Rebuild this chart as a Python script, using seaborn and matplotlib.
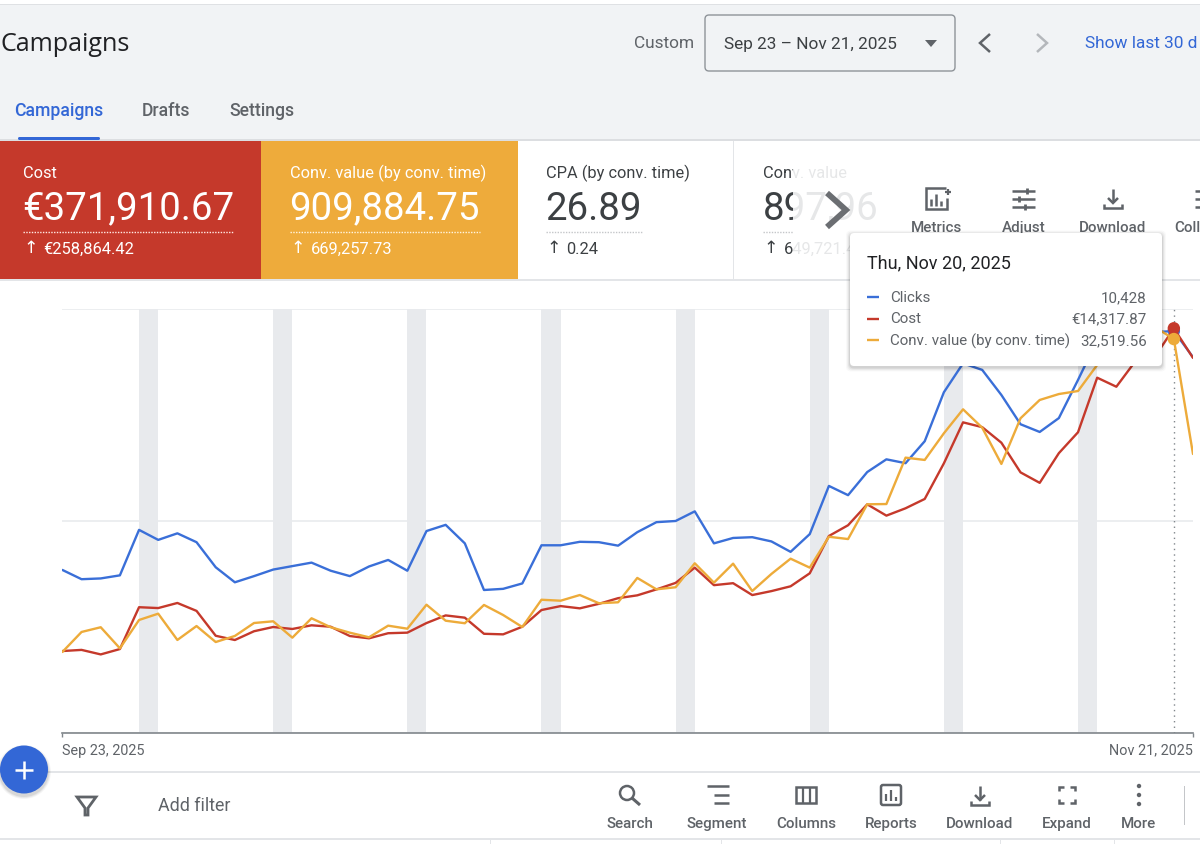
# Google Ads campaigns overview screenshot, rebuilt with seaborn
import matplotlib
matplotlib.use('Agg')
import matplotlib.pyplot as plt
import numpy as np
import pandas as pd
import seaborn as sns
from matplotlib.patches import Circle, FancyBboxPatch, Polygon, Rectangle
from matplotlib.transforms import Bbox, TransformedBbox

# Daily values (tooltip values used for Nov 20)
clicks = [4230, 3990, 4010, 4090, 5270, 5010, 5180, 4950, 4300, 3910,
          4070, 4240, 4330, 4420, 4210, 4070, 4320, 4490, 4210, 5240,
          5400, 4920, 3710, 3740, 3880, 4870, 4870, 4960, 4950, 4860,
          5210, 5470, 5500, 5750, 4920, 5060, 5080, 4970, 4700, 5160,
          6410, 6170, 6770, 7100, 7000, 7570, 8840, 9590, 9420, 8770,
          8010, 7810, 8170, 9160, 10190, 10660, 10770, 10400, 10428, 9750]
cost = [2900, 2940, 2780, 2970, 4450, 4420, 4600, 4320, 3440, 3290,
        3600, 3750, 3680, 3810, 3760, 3430, 3350, 3530, 3550, 3890,
        4160, 4080, 3510, 3490, 3760, 4350, 4490, 4410, 4570, 4770,
        4870, 5080, 5310, 5850, 5230, 5300, 4880, 5020, 5190, 5650,
        6970, 7350, 8090, 7690, 7950, 8280, 9540, 10990, 10820, 10270,
        9220, 8850, 9900, 10640, 12570, 12250, 13160, 13300, 14317.87, 13270]
conv_value = [6690, 8340, 8730, 6990, 9330, 9850, 7680, 8830, 7510, 8010,
              9080, 9220, 7870, 9470, 8730, 8280, 7900, 8860, 8610, 10590,
              9270, 9060, 10570, 9740, 8750, 11000, 10920, 11390, 10710, 10790,
              12800, 11860, 12030, 14010, 12410, 13980, 11720, 13130, 14390, 13650,
              16200, 16010, 18880, 18900, 22730, 22540, 24740, 26720, 25200, 22210,
              25980, 27490, 27980, 28230, 30380, 31620, 32850, 33520, 32519.56, 23030]
dates = pd.date_range('2025-09-23', '2025-11-21', freq='D')
hover_date = pd.Timestamp('2025-11-20')

# Hidden axis ranges of the three series
clicks_max = 11000
cost_max = 15000
conv_max = 35000

tab_labels = ['Campaigns', 'Drafts', 'Settings']
toolbar_labels = ['Search', 'Segment', 'Columns', 'Reports', 'Download', 'Expand', 'More']
top_tool_labels = ['Metrics', 'Adjust', 'Download', 'Coll']

BLUE = '#3a6fd8'
RED = '#c5392b'
AMBER = '#edab3a'
DARK = '#3c4043'
GRAY = '#5f6368'
LINE = '#e3e5e8'

sns.set_theme(style='white')
plt.rcParams['font.family'] = ['Roboto', 'DejaVu Sans']

fig = plt.figure(figsize=(12, 8.45), dpi=100, facecolor='white')

# Page furniture, in pixel coordinates
bg = fig.add_axes([0, 0, 1, 1], zorder=0)
bg.set_xlim(0, 1200)
bg.set_ylim(844, -1)
bg.axis('off')


def rect(ax, x0, y0, x1, y1, color, z=1):
    ax.add_patch(Rectangle((x0, y0), x1 - x0, y1 - y0, facecolor=color, edgecolor='none', zorder=z))


def seg(ax, xs, ys, color=GRAY, lw=1.5, z=3, **kw):
    ax.plot(xs, ys, color=color, lw=lw, zorder=z, solid_capstyle=kw.pop('cap', 'butt'),
            solid_joinstyle='miter', **kw)


def clip_x(ax, artist, x0, x1):
    # keeps only the part of a text between x0 and x1
    box = Bbox.from_extents(x0, 0, x1, 845)
    artist.set_clip_box(TransformedBbox(box, ax.transData))
    artist.set_clip_on(True)


# header
rect(bg, 0, 5, 1200, 140, '#f1f3f5')
rect(bg, 0, 4, 1200, 5, '#dfe1e4')
rect(bg, 0, 139, 1200, 140.5, '#dcdee1')
bg.text(0, 43.5, 'Campaigns', fontsize=18.1, color='#202124', family=['Open Sans', 'DejaVu Sans'], va='center', ha='left')

for label, x, col in zip(tab_labels, [14.5, 142, 229], ['#3367d6', GRAY, GRAY]):
    bg.text(x, 110, label, fontsize=12.7, color=col, va='center', fontweight='medium')
bg.add_patch(FancyBboxPatch((18, 137), 82, 3, boxstyle='round,pad=0,rounding_size=1.5', fc='#3367d6', ec='none', zorder=3))

bg.text(694, 43, 'Custom', fontsize=12.4, color=GRAY, va='center', ha='right')
bg.add_patch(FancyBboxPatch((705, 15), 250, 56, boxstyle='round,pad=0,rounding_size=4', fc='#f1f3f5', ec='#8f9499', lw=1, zorder=2))
bg.text(724, 43, 'Sep 23 – Nov 21, 2025', fontsize=12.4, color=DARK, va='center')
bg.add_patch(Polygon([[925, 40], [937, 40], [931, 47]], fc=GRAY, ec='none', zorder=3))
seg(bg, [990, 980, 990], [34, 43, 52], color=GRAY, lw=1.8)
seg(bg, [1037, 1047, 1037], [34, 43, 52], color='#b4b7bb', lw=1.8)
bg.text(1085, 43, 'Show last 30 d', fontsize=12.4, color='#3367d6', va='center')

# metric cards
rect(bg, 0, 141, 261, 279, RED)
rect(bg, 261, 141, 518, 279, '#eeab3b')
rect(bg, 0, 279, 1200, 280.5, LINE)
rect(bg, 732.5, 141, 733.5, 279, LINE)

cards = [(23, 'Cost', '€371,910.67', '€258,864.42', 211, 'white', '#ffe9e4'),
         (290, 'Conv. value (by conv. time)', '909,884.75', '669,257.73', 190, 'white', '#fff5e0'),
         (546, 'CPA (by conv. time)', '26.89', '0.24', 97, DARK, '#c4c6c9')]
for x, name, value, delta, ul, col, dotcol in cards:
    bg.text(x - 0.5, 172, name, fontsize=11.8, color=col, va='center', zorder=4)
    bg.text(x - 0.5, 208, value, fontsize=27.6, color=col, va='center', zorder=4)
    seg(bg, [x, x + ul], [232, 232], color=dotcol, lw=1, ls=(0, (1, 1)))
    bg.text(x, 247.5, '↑', fontsize=12.5, color=col, va='center', zorder=4)
    bg.text(x + 20.5, 248, delta, fontsize=11.9, color=col, va='center', zorder=4)

# card that fades out under the scroll arrow
for col, x0, x1 in [('#e6e7e8', 793, 878), (DARK, 763, 793)]:
    t = bg.text(763, 172, 'Conv. value', fontsize=11.8, color=col, va='center', zorder=4)
    clip_x(bg, t, x0, x1)
    t = bg.text(763, 208, '897,967', fontsize=27.6, color=col, va='center', zorder=4)
    clip_x(bg, t, x0, x1)
    t = bg.text(783.5, 248, '649,721.4', fontsize=11.9, color=col, va='center', zorder=4)
    clip_x(bg, t, x0, x1)
seg(bg, [763, 793], [232, 232], color='#c4c6c9', lw=1, ls=(0, (1, 1)))
bg.text(763, 247.5, '↑', fontsize=12.5, color=DARK, va='center', zorder=4)
seg(bg, [827, 846, 827], [193, 210, 227], color='#6b6e72', lw=4.2, z=5)

# tools above the tooltip line
for label, x in zip(top_tool_labels, [937, 1024, 1113, 1174]):
    bg.text(x, 227, label, fontsize=10.9, color=GRAY, va='center', ha='center' if label != 'Coll' else 'left', fontweight='medium')
# metrics icon
seg(bg, [946, 926, 926, 947, 947], [188, 188, 209, 209, 198], lw=1.8)
seg(bg, [931, 931], [199, 206], lw=1.8)
seg(bg, [936, 936], [194, 206], lw=1.8)
seg(bg, [941, 941], [201, 206], lw=1.8)
seg(bg, [945, 951], [192, 192], lw=1.6)
seg(bg, [948, 948], [189, 195], lw=1.6)
# adjust icon
for y, a, b in [(191, 1012, 1035), (199, 1012, 1035), (207, 1012, 1035)]:
    seg(bg, [a, b], [y, y], lw=1.8)
seg(bg, [1027, 1027], [188, 194], lw=2)
seg(bg, [1019, 1019], [196, 202], lw=2)
seg(bg, [1025, 1025], [204, 210], lw=2)
# download icon
seg(bg, [1113, 1113], [189, 202], lw=1.8)
seg(bg, [1108, 1113, 1118], [198, 203, 198], lw=1.8)
seg(bg, [1104, 1104, 1122, 1122], [204, 208, 208, 204], lw=1.8)
# collapse icon, cut by the screen edge
seg(bg, [1195, 1200], [191, 191], lw=1.8)
seg(bg, [1195, 1200], [199, 199], lw=1.8)
seg(bg, [1195, 1200], [207, 207], lw=1.8)

# bottom toolbar
rect(bg, 0, 771, 1200, 772.5, LINE)
rect(bg, 0, 838, 1200, 840, LINE)
for x in [490, 721, 1000, 1114]:
    rect(bg, x, 840, x + 1, 845, LINE)
bg.add_patch(Polygon([[77, 797], [96, 797], [88, 808], [88, 815], [85, 815], [85, 808]], fc='white', ec=GRAY, lw=2, zorder=3))
bg.text(158, 805, 'Add filter', fontsize=12.9, color=GRAY, va='center')

for label, x in zip(toolbar_labels, [630, 717, 806, 891, 980, 1067, 1139]):
    bg.text(x, 823, label, fontsize=10.9, color=GRAY, va='center', ha='center', fontweight='medium')
# search
bg.add_patch(Circle((627, 793), 7, fc='none', ec=GRAY, lw=1.8, zorder=3))
seg(bg, [632, 640], [798, 805], lw=2.2)
# segment
seg(bg, [707, 729], [786, 786], lw=1.8)
seg(bg, [714, 729], [795, 795], lw=1.8)
seg(bg, [714, 729], [803, 803], lw=1.8)
# columns
bg.add_patch(Rectangle((796, 787), 20, 16, fc='none', ec=GRAY, lw=1.8, zorder=3))
seg(bg, [802.5, 802.5], [787, 803], lw=1.6)
seg(bg, [809.5, 809.5], [787, 803], lw=1.6)
# reports
bg.add_patch(FancyBboxPatch((881, 785), 20, 20, boxstyle='round,pad=0,rounding_size=2', fc='none', ec=GRAY, lw=1.8, zorder=3))
seg(bg, [886, 886], [794, 801], lw=1.6)
seg(bg, [891, 891], [790, 801], lw=1.6)
seg(bg, [896, 896], [797, 801], lw=1.6)
# download
seg(bg, [980, 980], [786, 800], lw=1.8)
seg(bg, [975, 980, 985], [795, 800, 795], lw=1.8)
seg(bg, [971, 971, 989, 989], [801, 805, 805, 801], lw=1.8)
# expand
for sx, sy in [(-1, -1), (1, -1), (-1, 1), (1, 1)]:
    seg(bg, [1067 + sx * 8, 1067 + sx * 8, 1067 + sx * 3], [795 + sy * 4, 795 + sy * 8, 795 + sy * 8], lw=1.8)
# more
for y in [786, 795, 804]:
    bg.add_patch(Circle((1139, y), 2.2, fc=GRAY, ec='none', zorder=3))
rect(bg, 1183.5, 786, 1184.5, 825, '#c4c6c9')

# The chart itself: one axes per series because each has its own hidden scale
chart_box = [62.4 / 1200, (845 - 734) / 845, (1193 - 62.4) / 1200, (733 - 309) / 845]
ax = fig.add_axes(chart_box, zorder=1, facecolor='none')
df = pd.DataFrame({'date': dates, 'clicks': clicks, 'cost': cost, 'conv_value': conv_value})
hover = df[df['date'] == hover_date]

for sat in dates[dates.dayofweek == 5]:
    ax.axvspan(sat, sat + pd.Timedelta(days=1), color='#e8eaed', lw=0, zorder=0)
ax.axvline(hover_date, color='#80868b', lw=1, ls=(0, (1, 3)), zorder=1)

sns.lineplot(data=df, x='date', y='clicks', ax=ax, color=BLUE, lw=1.7, zorder=3)
sns.scatterplot(data=hover, x='date', y='clicks', ax=ax, color=BLUE, s=80, edgecolor='none', zorder=4, clip_on=False)
ax.set_ylim(0, clicks_max)
ax.set_xlim(dates[0], dates[-1])
ax.set_yticks([0, clicks_max / 2, clicks_max])
ax.set_yticklabels([])
ax.tick_params(axis='y', length=0)
ax.grid(axis='y', color='#e9ebed', lw=1.2)
ax.set_axisbelow(True)
ax.set_xticks([dates[0], dates[-1]])
ax.set_xticklabels(['Sep 23, 2025', 'Nov 21, 2025'], fontsize=10.4, color=GRAY)
ax.get_xticklabels()[0].set_ha('left')
ax.get_xticklabels()[1].set_ha('right')
ax.tick_params(axis='x', length=3, width=1, color='#80868b', pad=4, bottom=True)
ax.set_xlabel('')
ax.set_ylabel('')
sns.despine(ax=ax, left=True, right=True, top=True)
ax.spines['bottom'].set_color('#80868b')
ax.spines['bottom'].set_linewidth(1.2)

for col, vmax, color in [('cost', cost_max, RED), ('conv_value', conv_max, AMBER)]:
    twin = ax.twinx()
    twin.set_facecolor('none')
    sns.lineplot(data=df, x='date', y=col, ax=twin, color=color, lw=1.7, zorder=3)
    sns.scatterplot(data=hover, x='date', y=col, ax=twin, color=color, s=80, edgecolor='none', zorder=4, clip_on=False)
    twin.set_ylim(0, vmax)
    twin.set_ylabel('')
    twin.set_yticks([])
    twin.set_xlim(dates[0], dates[-1])
    twin.grid(False)
    for side in twin.spines.values():
        side.set_visible(False)

# Everything that floats above the chart
top = fig.add_axes([0, 0, 1, 1], zorder=2, facecolor='none')
top.set_xlim(0, 1200)
top.set_ylim(844, -1)
top.axis('off')

# floating add button with a soft shadow
for r, a in [(27, 0.04), (26, 0.05), (25, 0.07)]:
    top.add_patch(Circle((24, 772), r, fc='black', alpha=a, ec='none', zorder=1))
top.add_patch(Circle((24, 769.5), 24, fc='#3367d6', ec='none', zorder=2))
seg(top, [15, 33], [769.5, 769.5], color='white', lw=1.8)
seg(top, [24, 24], [760.5, 778.5], color='white', lw=1.8)

# hover tooltip
for pad, a in [(4, 0.025), (3, 0.035), (2, 0.05), (1, 0.07)]:
    top.add_patch(FancyBboxPatch((850 - pad, 233 - pad + 1.5), 312 + 2 * pad, 133 + 2 * pad,
                                 boxstyle='round,pad=0,rounding_size=5', fc='black', alpha=a, ec='none', zorder=4))
top.add_patch(FancyBboxPatch((850, 233), 312, 133, boxstyle='round,pad=0,rounding_size=4', fc='white', ec='none', zorder=5))
top.text(867, 262, 'Thu, Nov 20, 2025', fontsize=13, color='#202124', va='center', zorder=6)
tooltip_rows = [('Clicks', f'{clicks[58]:,}', BLUE, 297),
                ('Cost', f'€{cost[58]:,.2f}', RED, 318.5),
                ('Conv. value (by conv. time)', f'{conv_value[58]:,.2f}', AMBER, 340)]
for name, value, color, y in tooltip_rows:
    seg(top, [866.5, 878.5], [y, y], color=color, lw=1.7, z=6)
    top.text(890, y, name, fontsize=10.9, color=GRAY, va='center', zorder=6)
    top.text(1147, y, value, fontsize=10.9, color=GRAY, va='center', ha='right', zorder=6)

fig.savefig('out.png', dpi=100)
